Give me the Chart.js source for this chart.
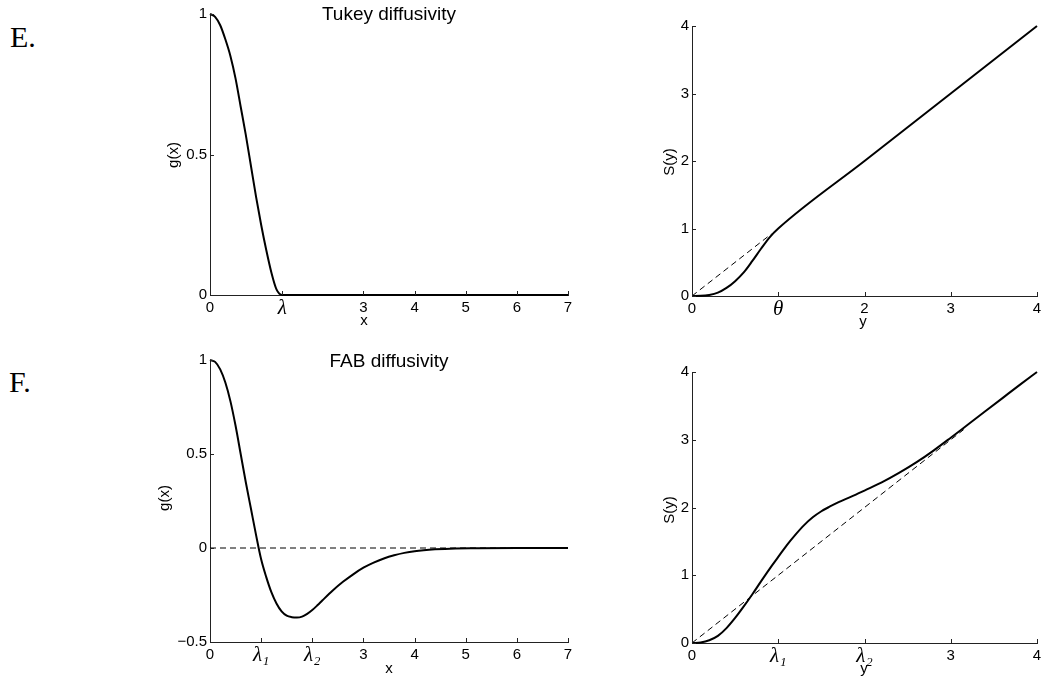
<!DOCTYPE html>
<html>
<head>
<meta charset="utf-8">
<script src="https://cdn.jsdelivr.net/npm/chart.js@4.4.1/dist/chart.umd.min.js"></script>
<style>
  body { margin: 0; background: #fff; width: 1046px; height: 680px; overflow: hidden; position: relative; }
  canvas { position: absolute; }
  .tag { position: absolute; font: 30px "Liberation Serif", "DejaVu Serif", serif; color: #000; line-height: 1; }
</style>
</head>
<body>
<div class="tag" style="left:10px;top:22px">E.</div>
<div class="tag" style="left:9px;top:367px">F.</div>
<canvas id="tukeyG" width="10" height="10"></canvas>
<canvas id="tukeyS" width="10" height="10"></canvas>
<canvas id="fabG" width="10" height="10"></canvas>
<canvas id="fabS" width="10" height="10"></canvas>
<script>
// --- data ---
// Tukey diffusivity g(x)
const tukeyGx = [0, 0.1, 0.2, 0.3, 0.4, 0.5, 0.6, 0.7, 0.8, 0.9, 1.0, 1.1, 1.2, 1.3, 1.414, 2, 3, 4, 5, 6, 7];
const tukeyGy = [1, 0.99, 0.96, 0.91, 0.85, 0.77, 0.67, 0.57, 0.46, 0.35, 0.25, 0.16, 0.08, 0.02, 0, 0, 0, 0, 0, 0, 0];
// Tukey S(y) and the dashed guide
const tukeySx = [0, 0.1, 0.2, 0.3, 0.4, 0.5, 0.6, 0.7, 0.8, 0.9, 1, 2, 3, 4];
const tukeySy = [0, 0.002, 0.016, 0.05, 0.12, 0.22, 0.35, 0.52, 0.70, 0.87, 1, 2, 3, 4];
const tukeyDashX = [0, 0.92];
const tukeyDashY = [0, 0.92];
// FAB diffusivity g(x) and the zero line
const fabGx = [0, 0.1, 0.2, 0.3, 0.4, 0.5, 0.6, 0.7, 0.8, 0.9, 1.0, 1.1, 1.2, 1.3, 1.4, 1.5, 1.6, 1.7, 1.8, 1.9, 2.0, 2.1, 2.2, 2.4, 2.6, 2.8, 3.0, 3.2, 3.4, 3.6, 3.8, 4.0, 4.4, 4.8, 5.2, 6.0, 7.0];
const fabGy = [1, 0.99, 0.95, 0.88, 0.78, 0.65, 0.50, 0.35, 0.21, 0.07, -0.06, -0.155, -0.235, -0.295, -0.337, -0.36, -0.368, -0.37, -0.365, -0.35, -0.33, -0.305, -0.278, -0.226, -0.18, -0.14, -0.105, -0.078, -0.056, -0.039, -0.026, -0.017, -0.007, -0.002, -0.001, 0, 0];
const fabZeroX = [0, 7];
const fabZeroY = [0, 0];
// FAB S(y) and the dashed diagonal
const fabSx = [0, 0.1, 0.2, 0.3, 0.4, 0.5, 0.6, 0.7, 0.8, 0.9, 1.0, 1.1, 1.2, 1.3, 1.4, 1.5, 1.6, 1.7, 1.8, 1.9, 2.0, 2.2, 2.4, 2.6, 2.8, 3.0, 3.2, 3.4, 3.6, 3.8, 4.0];
const fabSy = [0, 0.008, 0.04, 0.105, 0.22, 0.37, 0.54, 0.72, 0.91, 1.095, 1.27, 1.445, 1.60, 1.74, 1.855, 1.945, 2.015, 2.08, 2.135, 2.19, 2.25, 2.37, 2.51, 2.665, 2.84, 3.03, 3.225, 3.42, 3.615, 3.81, 4.0];
const fabDashX = [0, 3.15];
const fabDashY = [0, 3.15];

// ticks
const tukeyGxTicks = [0, 1.414, 3, 4, 5, 6, 7];
const tukeyGxLabels = ['0', 'λ', '3', '4', '5', '6', '7'];
const tukeyGyTicks = [0, 0.5, 1];
const tukeyGyLabels = ['0', '0.5', '1'];
const tukeySxTicks = [0, 1, 2, 3, 4];
const tukeySxLabels = ['0', 'θ', '2', '3', '4'];
const sYTicks = [0, 1, 2, 3, 4];
const sYLabels = ['0', '1', '2', '3', '4'];
const fabGxTicks = [0, 1, 2, 3, 4, 5, 6, 7];
const fabGxLabels = ['0', 'λ₁', 'λ₂', '3', '4', '5', '6', '7'];
const fabGyTicks = [-0.5, 0, 0.5, 1];
const fabGyLabels = ['−0.5', '0', '0.5', '1'];
const fabSxTicks = [0, 1, 2, 3, 4];
const fabSxLabels = ['0', 'λ₁', 'λ₂', '3', '4'];

// --- layout ---
const YW = 70, XH = 45, PT = 10, PR = 14;
const SANS = '"Liberation Sans", Arial, Helvetica, sans-serif';
const tickFont = { family: SANS, size: 15 };
const greekFont = { family: '"Liberation Serif", "DejaVu Serif", serif', size: 21, style: 'italic', lineHeight: 0.86 };
const isText = (s) => s && !/^[−\d.]+$/.test(s);
const pts = (xs, ys) => xs.map((x, i) => ({ x, y: ys[i] }));

// inward tick marks, axis labels and titles
const frame = {
  id: 'frame',
  afterDraw(chart, args, o) {
    const { ctx, chartArea: a, scales: { x, y } } = chart;
    const ox = o.box.L - YW, oy = o.box.T - PT;
    ctx.save();
    ctx.strokeStyle = '#222';
    ctx.lineWidth = 1;
    x.ticks.forEach(t => {
      const px = Math.round(x.getPixelForValue(t.value)) + 0.5;
      ctx.beginPath(); ctx.moveTo(px, a.bottom); ctx.lineTo(px, a.bottom - 4); ctx.stroke();
    });
    y.ticks.forEach(t => {
      const py = Math.round(y.getPixelForValue(t.value)) + 0.5;
      ctx.beginPath(); ctx.moveTo(a.left, py); ctx.lineTo(a.left + 4, py); ctx.stroke();
    });
    ctx.fillStyle = '#000';
    ctx.textAlign = 'center';
    ctx.textBaseline = 'middle';
    ctx.font = '15px ' + SANS;
    ctx.fillText(o.xLabel, o.xAt[0] - ox, o.xAt[1] - oy);
    ctx.save();
    ctx.translate(o.yAt[0] - ox, o.yAt[1] - oy);
    ctx.rotate(-Math.PI / 2);
    ctx.fillText(o.yLabel, 0, 0);
    ctx.restore();
    if (o.title) {
      ctx.font = '19px ' + SANS;
      ctx.fillText(o.title, o.titleAt[0] - ox, o.titleAt[1] - oy);
    }
    ctx.restore();
  }
};

function panel(id, box, xr, yr, xTicks, xLabels, yTicks, yLabels, datasets, text) {
  const cv = document.getElementById(id);
  cv.width = YW + (box.R - box.L) + PR;
  cv.height = PT + (box.B - box.T) + XH;
  cv.style.left = (box.L - YW) + 'px';
  cv.style.top = (box.T - PT) + 'px';
  const fontFor = (labels) => (c) => isText(labels[c.index]) ? greekFont : tickFont;
  new Chart(cv, {
    type: 'scatter',
    data: { datasets },
    options: {
      responsive: false,
      animation: false,
      layout: { padding: { left: 0, top: PT, right: PR, bottom: 0 } },
      plugins: { legend: { display: false }, tooltip: { enabled: false }, frame: Object.assign({ box }, text) },
      scales: {
        x: {
          type: 'linear', min: xr[0], max: xr[1],
          grid: { display: false, drawTicks: false },
          border: { display: true, color: '#222', width: 1 },
          afterBuildTicks: (s) => { s.ticks = xTicks.map(v => ({ value: v })); },
          afterFit: (s) => { s.height = XH; s.paddingLeft = 0; s.paddingRight = 0; },
          ticks: { autoSkip: false, maxRotation: 0, padding: 4, color: '#000', font: fontFor(xLabels),
                   callback: (v, i) => xLabels[i] }
        },
        y: {
          type: 'linear', min: yr[0], max: yr[1],
          grid: { display: false, drawTicks: false },
          border: { display: true, color: '#222', width: 1 },
          afterBuildTicks: (s) => { s.ticks = yTicks.map(v => ({ value: v })); },
          afterFit: (s) => { s.width = YW; s.paddingTop = 0; s.paddingBottom = 0; },
          ticks: { autoSkip: false, padding: 3, color: '#000', font: tickFont,
                   callback: (v, i) => yLabels[i] }
        }
      }
    },
    plugins: [frame]
  });
}

const solid = (xs, ys) => ({ data: pts(xs, ys), showLine: true, pointRadius: 0, borderColor: '#000', borderWidth: 2,
  cubicInterpolationMode: 'monotone', clip: 6 });
const dashed = (xs, ys) => ({ data: pts(xs, ys), showLine: true, pointRadius: 0, borderColor: '#000', borderWidth: 1,
  borderDash: [6, 4], clip: 6 });

panel('tukeyG', { L: 210, R: 568, T: 14, B: 295 }, [0, 7], [0, 1],
  tukeyGxTicks, tukeyGxLabels, tukeyGyTicks, tukeyGyLabels,
  [solid(tukeyGx, tukeyGy)],
  { xLabel: 'x', xAt: [364, 321], yLabel: 'g(x)', yAt: [174, 155], title: 'Tukey diffusivity', titleAt: [389, 15] });

panel('tukeyS', { L: 692, R: 1037, T: 26, B: 296 }, [0, 4], [0, 4],
  tukeySxTicks, tukeySxLabels, sYTicks, sYLabels,
  [solid(tukeySx, tukeySy), dashed(tukeyDashX, tukeyDashY)],
  { xLabel: 'y', xAt: [863, 322], yLabel: 'S(y)', yAt: [670, 162] });

panel('fabG', { L: 210, R: 568, T: 360, B: 642 }, [0, 7], [-0.5, 1],
  fabGxTicks, fabGxLabels, fabGyTicks, fabGyLabels,
  [solid(fabGx, fabGy), dashed(fabZeroX, fabZeroY)],
  { xLabel: 'x', xAt: [389, 669], yLabel: 'g(x)', yAt: [165, 498], title: 'FAB diffusivity', titleAt: [389, 362] });

panel('fabS', { L: 692, R: 1037, T: 372, B: 643 }, [0, 4], [0, 4],
  fabSxTicks, fabSxLabels, sYTicks, sYLabels,
  [solid(fabSx, fabSy), dashed(fabDashX, fabDashY)],
  { xLabel: 'y', xAt: [864, 669], yLabel: 'S(y)', yAt: [670, 510] });
</script>
</body>
</html>
